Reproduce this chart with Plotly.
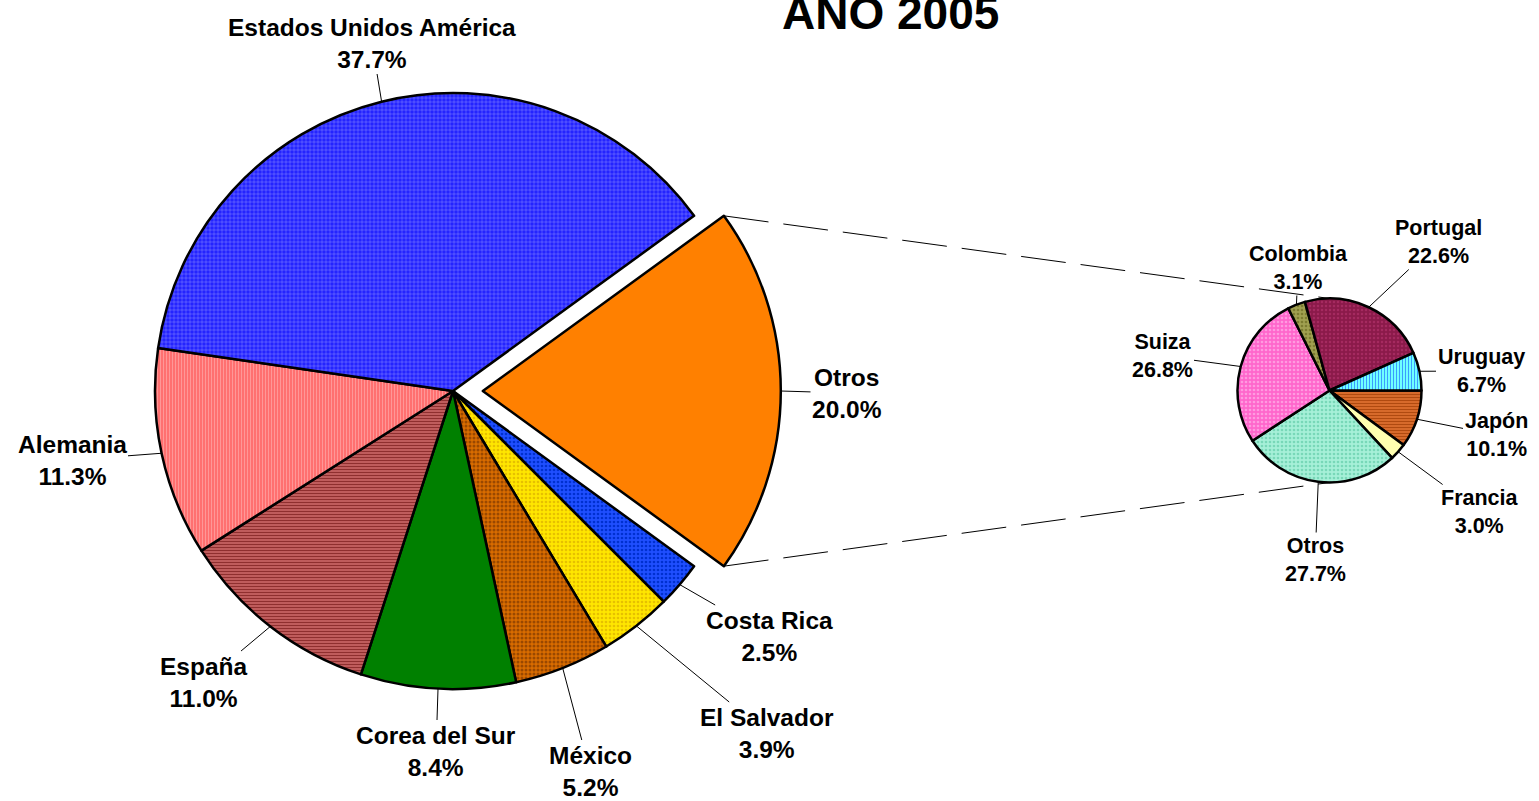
import math
import plotly.graph_objects as go

# ---------------- data ----------------
title_text = "AÑO 2005"

main_labels = ["Otros", "Costa Rica", "El Salvador", "México", "Corea del Sur",
               "España", "Alemania", "Estados Unidos América"]
main_values = [20.0, 2.5, 3.9, 5.2, 8.4, 11.0, 11.3, 37.7]

sub_labels = ["Japón", "Francia", "Otros", "Suiza", "Colombia", "Portugal", "Uruguay"]
sub_values = [10.1, 3.0, 27.7, 26.8, 3.1, 22.6, 6.7]

# ---------------- styles / layout ----------------
W, H = 1539, 801
MAIN_C = (453.0, 391.0)
MAIN_R = 298.0
MAIN_PULL = [0.1, 0, 0, 0, 0, 0, 0, 0]
MAIN_ROT = 54
SUB_C = (1329.5, 390.5)
SUB_R = 92.0
SUB_ROT = 90

main_bg = ["#ff8000", "#1f4fff", "#ffe600", "#d96c00", "#008000", "#cf6b6b", "#ff7070", "#2424ff"]
main_fg = ["#ff8000", "#0030d0", "#e6c000", "#9a4800", "#008000", "#8f2f2f", "#ff9c9c", "#ffffff"]
main_shape = ["", ".", ".", ".", "", "-", "|", "+"]
main_size = [8, 4, 4, 4, 8, 3, 3, 4]
main_solid = [0.3, 0.35, 0.35, 0.45, 0.3, 0.5, 0.3, 0.1]

sub_bg = ["#e07030", "#ffffb0", "#a6f0d8", "#ff66cc", "#a0a050", "#8b1a4a", "#70ffff"]
sub_fg = ["#b04a10", "#ffffb0", "#78d8b8", "#ff9ae0", "#7c7c30", "#a52a60", "#3a9cff"]
sub_shape = ["-", "", ".", ".", ".", ".", "|"]
sub_size = [3, 8, 4, 4, 4, 4, 3]
sub_solid = [0.45, 0.3, 0.35, 0.35, 0.35, 0.3, 0.35]

main_label_pos = [(847, 393), (769, 636), (767, 733), (590, 771), (436, 751),
                  (204, 682), (72, 460), (372, 43)]
sub_label_pos = [(1496, 435), (1480, 512), (1315, 560), (1162, 356), (1298, 268),
                 (1438, 242), (1481, 371)]

FONT = "Liberation Sans, Arial, sans-serif"


def px2paper(x, y):
    return x / W, 1 - y / H


def slice_angles(values, rot):
    total = float(sum(values))
    out = []
    cum = 0.0
    for v in values:
        a0 = rot + 360.0 * cum / total
        a1 = rot + 360.0 * (cum + v) / total
        out.append((a0, a1))
        cum += v
    return out


def point(c, r, ang):
    a = math.radians(ang)
    return c[0] + r * math.sin(a), c[1] - r * math.cos(a)


# domains from geometry
mhalf = MAIN_R * (1 + max(MAIN_PULL))
mx0, my1 = px2paper(MAIN_C[0] - mhalf, MAIN_C[1] - mhalf)
mx1, my0 = px2paper(MAIN_C[0] + mhalf, MAIN_C[1] + mhalf)
sx0, sy1 = px2paper(SUB_C[0] - SUB_R, SUB_C[1] - SUB_R)
sx1, sy0 = px2paper(SUB_C[0] + SUB_R, SUB_C[1] + SUB_R)

fig = go.Figure()
fig.add_trace(go.Pie(
    labels=main_labels, values=main_values, sort=False, direction="clockwise",
    rotation=MAIN_ROT, pull=MAIN_PULL, textinfo="none", hoverinfo="label+percent",
    domain=dict(x=[mx0, mx1], y=[my0, my1]), showlegend=False,
    marker=dict(colors=main_bg, line=dict(color="black", width=2.5),
                pattern=dict(shape=main_shape, bgcolor=main_bg, fgcolor=main_fg,
                             size=main_size, solidity=main_solid, fillmode="replace")),
))
fig.add_trace(go.Pie(
    labels=sub_labels, values=sub_values, sort=False, direction="clockwise",
    rotation=SUB_ROT, textinfo="none", hoverinfo="label+percent",
    domain=dict(x=[sx0, sx1], y=[sy0, sy1]), showlegend=False,
    marker=dict(colors=sub_bg, line=dict(color="black", width=2.5),
                pattern=dict(shape=sub_shape, bgcolor=sub_bg, fgcolor=sub_fg,
                             size=sub_size, solidity=sub_solid, fillmode="replace")),
))

annotations = []


def add_labels(labels, values, angles, center, radius, pulls, positions, size):
    for i, (lab, val) in enumerate(zip(labels, values)):
        a0, a1 = angles[i]
        mid = (a0 + a1) / 2
        c = center
        if pulls[i]:
            c = point(center, pulls[i] * radius, mid)
        ex, ey = point(c, radius, mid)
        lx, ly = positions[i]
        x, y = px2paper(ex, ey)
        annotations.append(dict(
            x=x, y=y, xref="paper", yref="paper",
            text=f"{lab}<br>{val:.1f}%", showarrow=True, arrowhead=0,
            arrowwidth=1, arrowcolor="black", standoff=0,
            ax=lx - ex, ay=ly - ey, axref="pixel", ayref="pixel",
            font=dict(family=FONT, size=size, color="black", weight="bold"),
            align="center",
        ))


main_ang = slice_angles(main_values, MAIN_ROT)
sub_ang = slice_angles(sub_values, SUB_ROT)
add_labels(main_labels, main_values, main_ang, MAIN_C, MAIN_R, MAIN_PULL, main_label_pos, 24.5)
add_labels(sub_labels, sub_values, sub_ang, SUB_C, SUB_R, [0] * len(sub_values), sub_label_pos, 21.5)

tx, ty = px2paper(890, 41)
annotations.append(dict(
    x=tx, y=ty, xref="paper", yref="paper", text=title_text, showarrow=False,
    xanchor="center", yanchor="bottom",
    font=dict(family=FONT, size=46, color="black", weight="bold"),
))

# connector lines from exploded slice to second pie
a0, a1 = main_ang[0]
pc = point(MAIN_C, MAIN_PULL[0] * MAIN_R, (a0 + a1) / 2)
top_start = point(pc, MAIN_R, a0)
bot_start = point(pc, MAIN_R, a1)
top_end = (SUB_C[0], SUB_C[1] - SUB_R)
bot_end = (SUB_C[0], SUB_C[1] + SUB_R)
shapes = []
for s, e in [(top_start, top_end), (bot_start, bot_end)]:
    x0, y0 = px2paper(*s)
    x1, y1 = px2paper(*e)
    shapes.append(dict(type="line", xref="paper", yref="paper", x0=x0, y0=y0, x1=x1, y1=y1,
                       line=dict(color="black", width=1, dash="45px,15px"), layer="below"))

fig.update_layout(
    width=W, height=H, autosize=False,
    margin=dict(l=0, r=0, t=0, b=0),
    paper_bgcolor="white", plot_bgcolor="white",
    annotations=annotations, shapes=shapes,
)

fig.write_html("out.html")
